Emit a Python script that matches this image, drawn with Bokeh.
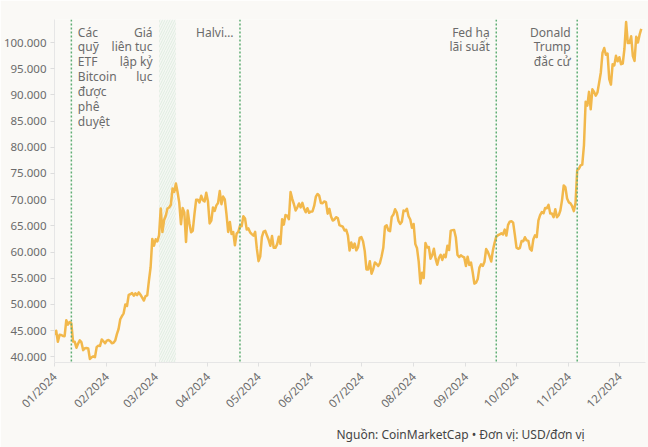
import pandas as pd
from bokeh.plotting import figure
from bokeh.models import (ColumnDataSource, Span, BoxAnnotation, Title, FixedTicker,
                          DatetimeTickFormatter, Range1d)
from bokeh.core.properties import value
from bokeh.embed import file_html
from bokeh.resources import INLINE

# ---------------- data (daily BTC price, USD) ----------------
start_date = "2024-01-01"
jan = [44180, 44960, 42850, 44180, 44160, 43970, 43930, 46970, 46130, 46630,
       46340, 42890, 42850, 41730, 42510, 43150, 42740, 41260, 41620, 41660,
       41580, 39570, 39900, 40080, 39930, 41820, 42120, 42040, 43300, 42950, 42580]
feb = [43080, 43190, 42990, 42580, 42660, 43080, 44320, 45300, 47150, 47770,
       48290, 49960, 49700, 51800, 51930, 52160, 51660, 52120, 51780, 52280,
       51840, 51300, 50730, 51570, 51730, 54520, 57090, 62500, 61200]
mar = [62440, 62030, 63170, 68330, 63800, 66110, 66930, 68300, 68500, 69020,
       72120, 71480, 73080, 71400, 69400, 65300, 68390, 67550, 61910, 67910,
       65490, 63780, 64060, 67230, 69960, 69990, 69450, 70740, 69890, 69650, 71330]
apr = [69700, 65450, 65980, 68510, 67840, 68900, 69360, 71630, 69140, 70590,
       70060, 67200, 63820, 65740, 63430, 63810, 61280, 63510, 63840, 64990,
       64930, 66840, 66410, 64280, 64500, 63760, 63420, 63110, 63840, 60640]
may = [58250, 59120, 62890, 63890, 64030, 63160, 62330, 61190, 63050, 60790,
       60790, 61450, 62900, 61550, 66270, 65230, 67050, 66940, 66280, 71450,
       70140, 69120, 67930, 68530, 69260, 68510, 69390, 68300, 67580, 68360, 67490]
jun = [67710, 67750, 68800, 70570, 71080, 70760, 69340, 69310, 69650, 69510,
       67320, 68240, 66760, 66010, 66190, 66640, 66490, 65140, 64960, 64830,
       64100, 64250, 63180, 60280, 61800, 60810, 61610, 60320, 60890, 62680]
jul = [62850, 62030, 60170, 56660, 56660, 58230, 55860, 56700, 58000, 57720,
       57340, 57890, 59200, 60790, 64870, 65100, 64120, 63970, 66710, 67160,
       68170, 67550, 65930, 65370, 65780, 67910, 67810, 68260, 66820, 66200, 64620]
aug = [65350, 61500, 60700, 58160, 53990, 56030, 55030, 61710, 60880, 60940,
       58710, 59350, 60610, 58740, 57560, 58890, 59480, 58480, 59490, 59010,
       61180, 60380, 64090, 64180, 64220, 62830, 59430, 59030, 59370, 59120, 58970]
sep = [57330, 59110, 57540, 57980, 56160, 53960, 54140, 54840, 57020, 57650,
       57340, 58130, 60570, 60010, 59180, 58190, 60310, 61760, 62950, 63200,
       63350, 63580, 63340, 64280, 63140, 65180, 65790, 65890, 65600, 63330]
oct_ = [60840, 60630, 60750, 62090, 62060, 62820, 62220, 62130, 60580, 60270,
        62450, 63190, 62850, 66050, 67040, 67610, 67400, 68420, 68360, 69000,
        67370, 67360, 66650, 68160, 66640, 67010, 67930, 69910, 72720, 72340, 70220]
nov = [69480, 69290, 68740, 67810, 69360, 75640, 75900, 76550, 76680, 80370,
       88700, 87960, 90580, 87250, 91070, 90560, 89850, 90460, 92310, 94290,
       98020, 98950, 97670, 97880, 93010, 91970, 95860, 95640, 97460, 96410]
dec = [97190, 95860, 96000, 98770, 103900, 99900, 99900, 101200, 97400, 96500,
       101100, 100000, 101500, 102600]

prices = jan + feb + mar + apr + may + jun + jul + aug + sep + oct_ + nov + dec
dates = pd.date_range(start_date, periods=len(prices), freq="D")

month_ticks = ["2024-01-01", "2024-02-01", "2024-03-01", "2024-04-01", "2024-05-01",
               "2024-06-01", "2024-07-01", "2024-08-01", "2024-09-01", "2024-10-01",
               "2024-11-01", "2024-12-01"]
y_ticks = [40000, 45000, 50000, 55000, 60000, 65000, 70000, 75000, 80000, 85000,
           90000, 95000, 100000]
y_tick_labels = ["40.000", "45.000", "50.000", "55.000", "60.000", "65.000", "70.000",
                 "75.000", "80.000", "85.000", "90.000", "95.000", "100.000"]

event_dates = ["2024-01-11", "2024-04-20", "2024-09-19", "2024-11-06"]
band_start, band_end = "2024-03-03", "2024-03-13"
left_label = "Các\nquỹ\nETF\nBitcoin\nđược\nphê\nduyệt"
right_label_dates = ["2024-03-03", "2024-04-20", "2024-09-19", "2024-11-06"]
right_labels = ["Giá\nliên tục\nlập kỷ\nlục", "Halvi…", "Fed hạ\nlãi suất", "Donald\nTrump\nđắc cử"]
footer = "Nguồn: CoinMarketCap • Đơn vị: USD/đơn vị"

# ---------------- styling ----------------
BG = "#faf9f6"
LINE = "#f2b84b"
GREEN = "#5fae74"
GREY = "#6b6b6b"
FONT = "Noto Sans"

t0 = pd.Timestamp(start_date)
p = figure(width=648, height=447, x_axis_type="datetime",
           output_backend="svg", toolbar_location=None,
           x_range=Range1d(t0, t0 + pd.Timedelta(hours=350.5 * 24)),
           y_range=Range1d(38900, 104400),
           min_border_left=54, min_border_right=3, min_border_top=19, min_border_bottom=85)
p.background_fill_color = BG
p.border_fill_color = BG
p.outline_line_color = None
p.xgrid.visible = False
p.ygrid.visible = False

band = BoxAnnotation(left=pd.Timestamp(band_start), right=pd.Timestamp(band_end),
                     fill_color="#f5f7f3", fill_alpha=1.0,
                     hatch_pattern="/", hatch_color="#e0ede1", hatch_scale=5,
                     hatch_weight=1, line_color=None, level="underlay")
p.add_layout(band)

for d in event_dates:
    p.add_layout(Span(location=pd.Timestamp(d), dimension="height",
                      line_color=GREEN, line_dash="2 2", line_width=1.5))

src = ColumnDataSource(dict(date=dates, price=prices))
p.line(x="date", y="price", source=src, line_color=LINE, line_width=2.5,
       line_join="round")

top = p.y_range.end
p.text(x=[pd.Timestamp(event_dates[0])], y=[top], text=[left_label],
       x_offset=6.5, y_offset=4, text_align="left", text_baseline="top",
       text_font=value(FONT), text_font_size="12px", text_color=GREY,
       text_line_height=0.88)
p.text(x=[pd.Timestamp(d) for d in right_label_dates], y=[top] * len(right_labels),
       text=right_labels, x_offset=-6.5, y_offset=4, text_align="right",
       text_baseline="top", text_font=value(FONT), text_font_size="12px",
       text_color=GREY, text_line_height=0.88)

# axes
p.yaxis.ticker = FixedTicker(ticks=y_ticks)
p.yaxis.major_label_overrides = {t: l for t, l in zip(y_ticks, y_tick_labels)}
p.yaxis.minor_tick_line_color = None
p.yaxis.major_tick_in = 0
p.yaxis.major_tick_out = 4
p.yaxis.major_tick_line_color = "#dddddd"
p.yaxis.axis_line_color = "#e6e6e6"
p.yaxis.major_label_standoff = 4
p.yaxis.major_label_text_font = FONT
p.yaxis.major_label_text_font_size = "11.5px"
p.yaxis.major_label_text_color = GREY

p.xaxis.ticker = FixedTicker(ticks=[pd.Timestamp(m).value / 1e6 for m in month_ticks])
fmt = "%m/%Y"
p.xaxis.formatter = DatetimeTickFormatter(days=fmt, months=fmt, years=fmt,
                                          hours=fmt, minutes=fmt, seconds=fmt)
p.xaxis.major_label_orientation = 0.785398
p.xaxis.minor_tick_line_color = None
p.xaxis.major_tick_in = 0
p.xaxis.major_tick_out = 4
p.xaxis.major_tick_line_color = "#e0e0e0"
p.xaxis.axis_line_color = "#e6e6e6"
p.xaxis.major_label_standoff = 8
p.xaxis.major_label_text_font = FONT
p.xaxis.major_label_text_font_size = "11.5px"
p.xaxis.major_label_text_color = GREY

p.add_layout(Title(text=footer, align="left", offset=282, standoff=8,
                   text_font=FONT, text_font_size="12px", text_color="#444444",
                   text_font_style="normal"), "below")

open("out.html", "w").write(file_html(p, INLINE))
